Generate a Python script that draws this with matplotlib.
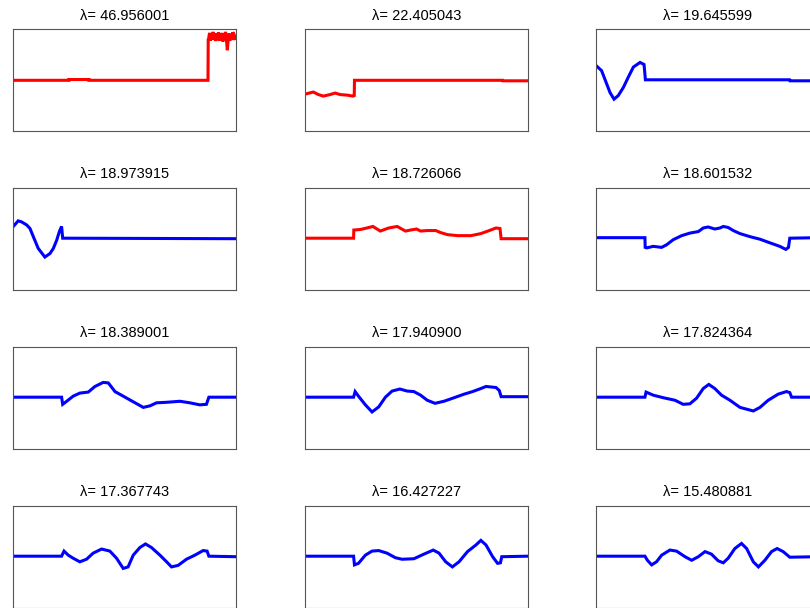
import matplotlib
matplotlib.use("Agg")
import matplotlib.pyplot as plt

plt.rcParams['font.family'] = ['Liberation Sans', 'DejaVu Sans']

# eigenvalues shown above each mode
lambdas = [46.956001, 22.405043, 19.645599,
           18.973915, 18.726066, 18.601532,
           18.389001, 17.940900, 17.824364,
           17.367743, 16.427227, 15.480881]
colors = ['red', 'red', 'blue',
          'blue', 'red', 'blue',
          'blue', 'blue', 'blue',
          'blue', 'blue', 'blue']

# mode shapes, x in percent of the domain
noise_x = [87.8, 88.2, 88.6, 89.0, 89.4, 89.8, 90.2, 90.6, 91.0, 91.4, 91.8,
           92.2, 92.6, 93.0, 93.4, 93.8, 94.2, 94.6, 95.0, 95.4, 95.8, 96.2,
           96.6, 97.0, 97.4, 97.8, 98.2, 98.6, 99.0, 99.4, 100.0]
noise_y = [0.82, 0.93, 0.78, 0.90, 0.80, 0.95, 0.79, 0.88, 0.77, 0.92, 0.81,
           0.94, 0.78, 0.89, 0.80, 0.93, 0.76, 0.91, 0.82, 0.95, 0.79, 0.59,
           0.80, 0.92, 0.78, 0.90, 0.81, 0.94, 0.79, 0.88, 0.83]
mode1_x = [0, 25, 25, 34, 34, 87.5, 87.6] + noise_x
mode1_y = [0.0, 0.0, 0.015, 0.015, 0.0, 0.0, 0.80] + noise_y

mode2_x = [0, 3.6, 5.9, 8.1, 11.1, 13.4, 15.7, 18.7, 21.4, 22.0, 22.1, 88.7, 88.8, 100]
mode2_y = [-0.27, -0.23, -0.28, -0.31, -0.28, -0.25, -0.28, -0.29, -0.31, -0.30,
           0.0, 0.0, -0.01, -0.01]

mode3_x = [0, 2.5, 4.8, 6.3, 8.1, 10.0, 12.3, 14.5, 16.8, 19.8, 21.6, 22.2, 87.0, 87.2, 100]
mode3_y = [0.29, 0.19, -0.07, -0.24, -0.37, -0.30, -0.14, 0.06, 0.26, 0.35, 0.31,
           0.01, 0.01, -0.01, -0.01]

mode4_x = [0, 2.2, 3.7, 6.0, 7.5, 9.0, 11.2, 14.2, 16.5, 18.0, 19.5, 20.7, 21.7,
           22.2, 100]
mode4_y = [0.24, 0.35, 0.33, 0.27, 0.20, 0.04, -0.19, -0.36, -0.29, -0.19, -0.03,
           0.14, 0.24, 0.01, 0.0]

mode5_x = [0, 21.7, 21.8, 24.7, 27.7, 30.4, 33.7, 37.5, 41.3, 45.0, 47.3, 50.0,
           51.8, 54.8, 58.6, 60.8, 63.9, 68.4, 74.4, 78.9, 82.7, 85.7, 87.5,
           88.0, 100]
mode5_y = [0.01, 0.01, 0.17, 0.18, 0.21, 0.24, 0.15, 0.21, 0.24, 0.15, 0.17, 0.19,
           0.15, 0.16, 0.16, 0.12, 0.08, 0.06, 0.06, 0.10, 0.16, 0.21, 0.20,
           0.0, 0.0]

mode6_x = [0, 22.0, 22.1, 22.8, 25.7, 29.5, 31.7, 34.7, 38.5, 42.2, 46.0, 48.2,
           50.4, 53.4, 55.7, 57.2, 59.4, 61.7, 64.7, 69.2, 73.7, 78.1, 82.6,
           85.3, 86.5, 87.1, 100]
mode6_y = [0.02, 0.02, -0.17, -0.18, -0.15, -0.17, -0.12, -0.02, 0.06, 0.11, 0.14,
           0.21, 0.23, 0.19, 0.21, 0.24, 0.22, 0.16, 0.10, 0.04, -0.01, -0.08,
           -0.15, -0.21, -0.17, 0.01, 0.02]

mode7_x = [0, 21.7, 22.2, 24.0, 26.9, 29.9, 33.7, 36.7, 40.4, 42.7, 45.7, 49.4,
           53.9, 58.4, 61.4, 64.4, 68.9, 74.9, 79.3, 83.8, 86.8, 87.9, 100]
mode7_y = [0.01, 0.01, -0.13, -0.07, 0.03, 0.09, 0.11, 0.22, 0.30, 0.29, 0.12,
           0.03, -0.08, -0.19, -0.16, -0.10, -0.09, -0.07, -0.10, -0.14, -0.13,
           0.01, 0.01]

mode8_x = [0, 21.7, 22.4, 23.9, 27.0, 30.0, 33.0, 36.0, 39.0, 42.5, 45.8, 48.8,
           51.8, 54.8, 58.3, 62.3, 66.9, 71.4, 75.2, 78.9, 81.2, 85.7, 87.2,
           88.0, 100]
mode8_y = [0.01, 0.01, 0.12, 0.03, -0.14, -0.28, -0.18, 0.01, 0.13, 0.17, 0.13,
           0.12, 0.05, -0.05, -0.11, -0.07, 0.0, 0.07, 0.12, 0.18, 0.22, 0.20,
           0.14, 0.02, 0.02]

mode9_x = [0, 22.0, 22.5, 25.7, 30.2, 35.5, 39.2, 42.2, 45.2, 48.2, 50.7, 53.4,
           56.4, 60.2, 64.7, 70.7, 73.7, 77.4, 81.9, 85.6, 87.1, 87.9, 100]
mode9_y = [0.01, 0.01, 0.11, 0.05, 0.0, -0.05, -0.13, -0.12, -0.01, 0.18, 0.26,
           0.18, 0.05, -0.05, -0.19, -0.26, -0.19, -0.05, 0.07, 0.12, 0.10, 0.01,
           0.01]

mode10_x = [0, 21.7, 22.8, 24.7, 26.9, 29.9, 32.9, 35.9, 39.7, 43.4, 46.4, 49.4,
            51.6, 53.9, 56.9, 59.4, 62.1, 65.9, 68.9, 71.1, 74.1, 77.8, 81.6,
            85.3, 87.1, 87.9, 100]
mode10_y = [0.01, 0.01, 0.11, 0.03, -0.03, -0.10, -0.05, 0.07, 0.15, 0.11, -0.03,
            -0.23, -0.20, 0.03, 0.18, 0.25, 0.18, 0.03, -0.10, -0.20, -0.17,
            -0.05, 0.03, 0.12, 0.11, 0.01, 0.0]

mode11_x = [0, 21.7, 22.1, 23.9, 27.0, 30.0, 33.0, 36.7, 40.5, 43.5, 48.8, 53.3,
            57.5, 60.1, 63.1, 66.1, 69.1, 72.9, 76.7, 78.9, 81.2, 84.2, 86.4,
            87.7, 88.3, 100]
mode11_y = [0.01, 0.01, -0.16, -0.13, 0.03, 0.11, 0.12, 0.07, -0.02, -0.05, -0.04,
            0.05, 0.13, 0.07, -0.10, -0.20, -0.10, 0.10, 0.23, 0.32, 0.23, 0.0,
            -0.13, -0.12, 0.0, 0.01]

mode12_x = [0, 22.0, 23.1, 25.0, 27.2, 29.5, 33.2, 36.2, 40.0, 43.0, 46.0, 49.0,
            51.9, 54.9, 57.2, 59.4, 62.4, 65.4, 67.7, 70.7, 73.0, 75.9, 78.9,
            81.4, 84.1, 87.1, 100]
mode12_y = [0.01, 0.01, -0.07, -0.16, -0.10, 0.03, 0.13, 0.11, 0.0, -0.07, 0.0,
            0.10, 0.05, -0.08, -0.12, -0.03, 0.16, 0.26, 0.16, -0.10, -0.20,
            -0.07, 0.10, 0.16, 0.10, -0.01, 0.0]

modes_x = [mode1_x, mode2_x, mode3_x, mode4_x, mode5_x, mode6_x,
           mode7_x, mode8_x, mode9_x, mode10_x, mode11_x, mode12_x]
modes_y = [mode1_y, mode2_y, mode3_y, mode4_y, mode5_y, mode6_y,
           mode7_y, mode8_y, mode9_y, mode10_y, mode11_y, mode12_y]

W, H = 810, 608
fig = plt.figure(figsize=(W / 100, H / 100), dpi=100)

# panel placement in pixels (last column runs off the right edge)
col_left = [13.3, 305.3, 596.0]
row_top = [29.3, 187.7, 346.7, 505.7]
ax_w, ax_h = 222.5, 102.0

for i in range(12):
    r, c = divmod(i, 3)
    ax = fig.add_axes([col_left[c] / W, 1 - (row_top[r] + ax_h) / H,
                       ax_w / W, ax_h / H])
    ax.plot(modes_x[i], modes_y[i], color=colors[i], lw=2.2,
            solid_joinstyle='miter')
    ax.set_xlim(0, 100)
    ax.set_ylim(-1, 1)
    ax.set_xticks([])
    ax.set_yticks([])
    for s in ax.spines.values():
        s.set_color('#555555')
        s.set_linewidth(0.8)
    ax.set_title('λ= %f' % lambdas[i], fontsize=10.5, pad=7)

fig.savefig('out.png', dpi=100)
